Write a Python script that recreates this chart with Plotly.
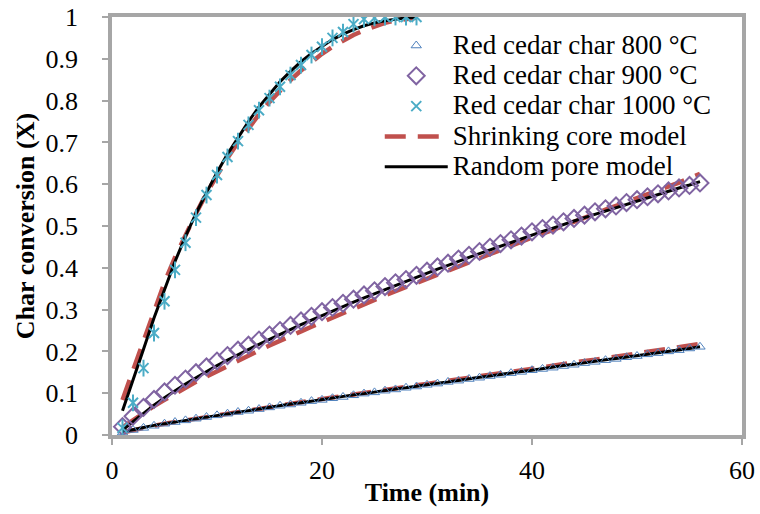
import plotly.graph_objects as go

# ---------------- data ----------------
t_long = list(range(1, 57))      # 800 and 900 °C, min
t_short = list(range(1, 30))     # 1000 °C, min

x800 = [0.006, 0.012, 0.017, 0.022, 0.027, 0.031, 0.035, 0.039, 0.043, 0.047,
        0.051, 0.055, 0.058, 0.062, 0.066, 0.070, 0.073, 0.077, 0.081, 0.084,
        0.088, 0.091, 0.095, 0.099, 0.102, 0.106, 0.109, 0.113, 0.116, 0.120,
        0.123, 0.127, 0.130, 0.134, 0.137, 0.141, 0.144, 0.148, 0.151, 0.155,
        0.158, 0.161, 0.165, 0.168, 0.172, 0.175, 0.179, 0.182, 0.186, 0.189,
        0.193, 0.196, 0.200, 0.203, 0.207, 0.211]
x900 = [0.020, 0.045, 0.066, 0.085, 0.103, 0.119, 0.134, 0.149, 0.163, 0.177,
        0.190, 0.203, 0.215, 0.227, 0.239, 0.250, 0.262, 0.273, 0.284, 0.295,
        0.305, 0.315, 0.325, 0.335, 0.345, 0.355, 0.364, 0.372, 0.382, 0.392,
        0.402, 0.411, 0.421, 0.430, 0.439, 0.449, 0.458, 0.467, 0.476, 0.486,
        0.494, 0.502, 0.510, 0.518, 0.526, 0.534, 0.541, 0.548, 0.556, 0.563,
        0.570, 0.577, 0.584, 0.591, 0.597, 0.603]
x1000 = [0.017, 0.077, 0.160, 0.244, 0.320, 0.395, 0.460, 0.520, 0.574, 0.622,
         0.665, 0.703, 0.742, 0.777, 0.806, 0.833, 0.861, 0.885, 0.909, 0.929,
         0.950, 0.964, 0.983, 0.995, 0.998, 1.000, 1.000, 1.000, 1.000]

# Shrinking core model
scm800 = [0.006, 0.012, 0.017, 0.022, 0.027, 0.031, 0.035, 0.040, 0.044, 0.048,
          0.052, 0.056, 0.060, 0.064, 0.068, 0.071, 0.075, 0.079, 0.082, 0.086,
          0.090, 0.093, 0.097, 0.101, 0.104, 0.108, 0.112, 0.115, 0.119, 0.122,
          0.126, 0.130, 0.133, 0.137, 0.140, 0.144, 0.148, 0.151, 0.155, 0.158,
          0.162, 0.166, 0.169, 0.173, 0.177, 0.180, 0.184, 0.188, 0.191, 0.195,
          0.199, 0.202, 0.206, 0.210, 0.214, 0.218]
scm900 = [0.018, 0.036, 0.053, 0.069, 0.084, 0.099, 0.113, 0.127, 0.140, 0.153,
          0.166, 0.178, 0.190, 0.202, 0.214, 0.226, 0.237, 0.248, 0.259, 0.270,
          0.281, 0.292, 0.302, 0.313, 0.323, 0.334, 0.344, 0.354, 0.364, 0.374,
          0.384, 0.394, 0.404, 0.414, 0.424, 0.434, 0.443, 0.453, 0.463, 0.472,
          0.482, 0.491, 0.501, 0.510, 0.520, 0.529, 0.539, 0.548, 0.557, 0.567,
          0.576, 0.585, 0.595, 0.604, 0.614, 0.625]
scm1000 = [0.084, 0.155, 0.230, 0.300, 0.365, 0.425, 0.480, 0.530, 0.578, 0.622,
           0.663, 0.700, 0.735, 0.767, 0.797, 0.824, 0.849, 0.872, 0.893, 0.912,
           0.929, 0.944, 0.957, 0.968, 0.978, 0.986, 0.992, 0.996, 0.998]

# Random pore model
rpm800 = [0.007, 0.013, 0.018, 0.023, 0.027, 0.031, 0.035, 0.039, 0.043, 0.047,
          0.051, 0.055, 0.059, 0.063, 0.066, 0.070, 0.074, 0.077, 0.081, 0.085,
          0.088, 0.092, 0.096, 0.099, 0.103, 0.106, 0.110, 0.113, 0.117, 0.120,
          0.124, 0.127, 0.131, 0.134, 0.138, 0.141, 0.145, 0.148, 0.152, 0.155,
          0.159, 0.162, 0.166, 0.169, 0.173, 0.176, 0.180, 0.183, 0.186, 0.190,
          0.193, 0.197, 0.200, 0.204, 0.207, 0.211]
rpm900 = [0.012, 0.032, 0.052, 0.071, 0.089, 0.106, 0.122, 0.137, 0.152, 0.166,
          0.179, 0.192, 0.205, 0.217, 0.229, 0.241, 0.253, 0.264, 0.275, 0.286,
          0.297, 0.308, 0.318, 0.328, 0.338, 0.348, 0.358, 0.368, 0.378, 0.388,
          0.397, 0.406, 0.416, 0.425, 0.434, 0.443, 0.452, 0.461, 0.470, 0.478,
          0.487, 0.495, 0.504, 0.512, 0.520, 0.528, 0.536, 0.544, 0.552, 0.560,
          0.568, 0.576, 0.583, 0.591, 0.598, 0.606]
rpm1000 = [0.058, 0.130, 0.205, 0.280, 0.350, 0.415, 0.475, 0.530, 0.580, 0.628,
           0.672, 0.712, 0.750, 0.785, 0.816, 0.845, 0.870, 0.893, 0.913, 0.930,
           0.946, 0.959, 0.970, 0.979, 0.986, 0.991, 0.995, 0.998, 0.999]

names = ["Red cedar char 800 °C", "Red cedar char 900 °C", "Red cedar char 1000 °C",
         "Shrinking core model", "Random pore model"]

# ---------------- figure ----------------
FONT = "Liberation Serif"
LEG_FS = 27


def leg(name):
    # glyphs slightly larger than the legend base font, giving Excel-like tight rows
    return f'<span style="font-size:{LEG_FS}px">{name}</span>'


fig = go.Figure()

RED = "#c0504d"
scm_sets = [(t_long, scm800), (t_long, scm900), (t_short, scm1000)]
rpm_sets = [(t_long, rpm800), (t_long, rpm900), (t_short, rpm1000)]

for i, (tt, yy) in enumerate(scm_sets):
    fig.add_trace(go.Scatter(x=tt, y=yy, mode="lines", name=leg(names[3]),
                             legendgroup="scm", showlegend=(i == 0), legendrank=4,
                             line=dict(color=RED, width=4.5, dash="21px,12px")))
for i, (tt, yy) in enumerate(rpm_sets):
    fig.add_trace(go.Scatter(x=tt, y=yy, mode="lines", name=leg(names[4]),
                             legendgroup="rpm", showlegend=(i == 0), legendrank=5,
                             line=dict(color="black", width=3)))

fig.add_trace(go.Scatter(x=t_long, y=x800, mode="markers", name=leg(names[0]), legendrank=1,
                         marker=dict(symbol="triangle-up-open", size=9, color="#4f81bd",
                                     line=dict(width=1, color="#4f81bd"))))
fig.add_trace(go.Scatter(x=t_long, y=x900, mode="markers", name=leg(names[1]), legendrank=2,
                         marker=dict(symbol="diamond-open", size=13, color="#8064a2",
                                     line=dict(width=2, color="#8064a2"))))
fig.add_trace(go.Scatter(x=t_short, y=x1000, mode="markers", name=leg(names[2]), legendrank=3,
                         legendgroup="c1000",
                         marker=dict(symbol="x-thin-open", size=10, color="#4bacc6",
                                     line=dict(width=2, color="#4bacc6"))))
fig.add_trace(go.Scatter(x=t_short, y=x1000, mode="markers", name=leg(names[2]),
                         legendgroup="c1000", showlegend=False,
                         marker=dict(symbol="line-ns-open", size=12, color="#4bacc6",
                                     line=dict(width=2, color="#4bacc6"))))

axis_common = dict(showline=True, linecolor="#a6a6a6", linewidth=3.5, mirror=True,
                   ticks="outside", ticklen=6, tickwidth=2, tickcolor="#a6a6a6",
                   showgrid=False, zeroline=False, automargin=False,
                   tickfont=dict(family=FONT, size=26, color="black"))

fig.update_layout(
    width=760, height=514,
    margin=dict(l=112, r=18, t=17, b=79),
    paper_bgcolor="white", plot_bgcolor="white",
    font=dict(family=FONT, color="black"),
    xaxis=dict(range=[0, 60], tickmode="linear", tick0=0, dtick=20,
               ticklabelstandoff=3,
               title=dict(text="<b>Time (min)</b>", font=dict(family=FONT, size=26),
                          standoff=0),
               **axis_common),
    yaxis=dict(range=[0, 1], tickmode="linear", tick0=0, dtick=0.1,
               ticklabelstandoff=19,
               title=dict(text="<b>Char conversion (X)</b>", font=dict(family=FONT, size=26),
                          standoff=4),
               **axis_common),
    legend=dict(x=0.425, y=0.98, xanchor="left", yanchor="top",
                bgcolor="rgba(0,0,0,0)", borderwidth=0,
                font=dict(family=FONT, size=21, color="black"),
                itemwidth=63, tracegroupgap=0),
    showlegend=True,
)

fig.write_html("out.html")
